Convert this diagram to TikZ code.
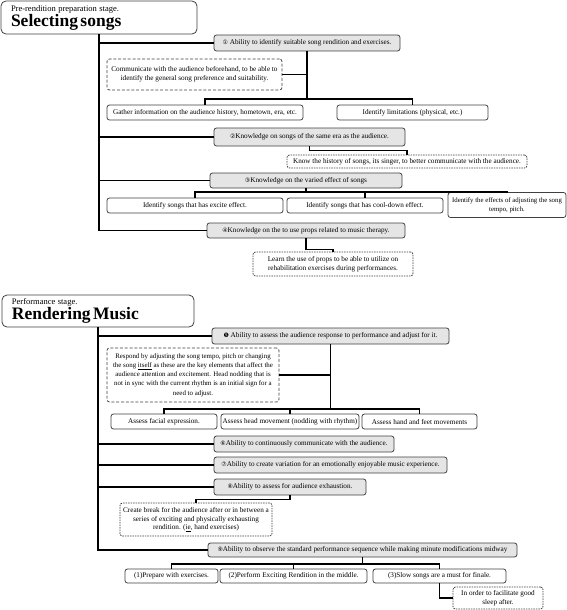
\documentclass[tikz,border=0pt]{standalone}
\usepackage{fontspec}
\setmainfont{Liberation Serif}
\newfontfamily\circfont{DejaVu Sans}
\newcommand\cnum[1]{{\circfont\fontsize{6}{6}\selectfont #1}}

\begin{document}
\begin{tikzpicture}[x=1pt, y=-1pt,
  every node/.style={font=\fontsize{7.2}{8.8}\selectfont, align=center, inner sep=1pt},
  box/.style={draw=black!75, line width=0.8pt, rounded corners=2.5pt, fill=white},
  mainbox/.style={box, fill=black!10, minimum height=15pt},
  subbox/.style={box, minimum height=15pt},
  titlebox/.style={box, rounded corners=5pt, align=left, inner xsep=10pt},
  notebox/.style={box, dash pattern=on 3pt off 1.8pt},
  dotbox/.style={box, dash pattern=on 1.5pt off 1pt},
  link/.style={line width=1.1pt}]
\useasboundingbox (0,0) rectangle (567,610);
\node[titlebox, text width=176pt, minimum height=33pt] (stage1) at (99,17.5) {{\fontsize{8.5}{9}\selectfont Pre-rendition preparation stage.}\\{\fontsize{17.5}{18}\selectfont\bfseries Selecting songs}};
\node[mainbox, minimum width=186pt, minimum height=16pt] (a1) at (307,43) {\cnum{①} Ability to identify suitable song rendition and exercises.};
\node[notebox, minimum width=175pt, minimum height=31pt] (a1c) at (194.5,74.5) {Communicate with the audience beforehand, to be able to\\identify the general song preference and suitability.};
\node[subbox, minimum width=196pt] (a1g) at (205,112.5) {Gather information on the audience history, hometown, era, etc.};
\node[subbox, minimum width=151pt] (a1l) at (412.5,112.5) {Identify limitations (physical, etc.)};
\node[mainbox, minimum width=191pt, minimum height=18pt] (a2) at (309.5,137) {\cnum{②}Knowledge on songs of the same era as the audience.};
\node[dotbox, minimum width=240pt, minimum height=13pt] (a2k) at (407,161.5) {Know the history of songs, its singer, to better communicate with the audience.};
\node[mainbox, minimum width=192pt] (a3) at (306,180.5) {\cnum{③}Knowledge on the varied effect of songs};
\node[subbox, minimum width=176pt] (a3e) at (195,205.5) {Identify songs that has excite effect.};
\node[subbox, minimum width=156pt] (a3c) at (365,205.5) {Identify songs that has cool-down effect.};
\node[subbox, minimum width=118pt, minimum height=25pt, font=\fontsize{6.8}{8.8}\selectfont] (a3t) at (507,205) {Identify the effects of adjusting the song\\tempo, pitch.};
\node[mainbox, minimum width=198pt] (a4) at (306,230.5) {\cnum{④}Knowledge on the to use props related to music therapy.};
\node[dotbox, minimum width=160pt, minimum height=24pt] (a4p) at (333,264) {Learn the use of props to be able to utilize on\\rehabilitation exercises during performances.};
\node[titlebox, text width=172pt, minimum height=32pt] (stage2) at (98,311) {{\fontsize{8.5}{9}\selectfont Performance stage.}\\{\fontsize{17.5}{18}\selectfont\bfseries Rendering Music}};
\node[mainbox, minimum width=237pt, minimum height=16pt] (b5) at (330.5,336) {\cnum{❺} Ability to assess the audience response to performance and adjust for it.};
\node[notebox, minimum width=172pt, minimum height=54pt, font=\fontsize{6.9}{9.2}\selectfont] (b5r) at (193,375) {Respond by adjusting the song tempo, pitch or changing\\the song \underline{itself} as these are the key elements that affect the\\audience attention and excitement. Head nodding that is\\not in sync with the current rhythm is an initial sign for a\\need to adjust.};
\node[subbox, minimum width=106pt] (b5f) at (164,421.5) {Assess facial expression.};
\node[subbox, minimum width=138pt] (b5h) at (290,421.5) {Assess head movement (nodding with rhythm)};
\node[subbox, minimum width=115pt] (b5m) at (419.5,421.5) {Assess hand and feet movements};
\node[mainbox, minimum width=180pt, minimum height=16pt] (b6) at (304,444) {\cnum{⑥}Ability to continuously communicate with the audience.};
\node[mainbox, minimum width=233pt, minimum height=16pt] (b7) at (330.5,465) {\cnum{⑦}Ability to create variation for an emotionally enjoyable music experience.};
\node[mainbox, minimum width=152pt, minimum height=16pt] (b8) at (290,487) {\cnum{⑧}Ability to assess for audience exhaustion.};
\node[dotbox, minimum width=152pt, minimum height=33pt] (b8b) at (196,519.5) {Create break for the audience after or in between a\\series of exciting and physically exhausting\\rendition. (\underline{ie}, hand exercises)};
\node[mainbox, minimum width=309pt, minimum height=14pt] (b9) at (362.5,550) {\cnum{⑨}Ability to observe the standard performance sequence while making minute modifications midway};
\node[subbox, minimum width=93pt, minimum height=14pt] (b9a) at (171.5,576) {(1)Prepare with exercises.};
\node[subbox, minimum width=147pt, minimum height=14pt] (b9b) at (293.5,576) {(2)Perform Exciting Rendition in the middle.};
\node[subbox, minimum width=133pt, minimum height=14pt] (b9c) at (439.5,576) {(3)Slow songs are a must for finale.};
\node[dotbox, minimum width=90pt, minimum height=22pt] (b9s) at (498,598) {In order to facilitate good\\sleep after.};
\foreach \n in {a1,a2,a3,a4}
  \draw[link] (stage1.south) |- (\n.west);
\coordinate (j1) at (307,99);
\draw[link] (a1.south) -- (j1);
\draw[link] (a1c.east) -- (a1c.east -| a1.south);
\draw[link] (a1g.north) |- (j1) -| (a1l.north);
\draw[link] (a2.south) -- ++(0,4) -| (a2k.north);
\coordinate (j3) at (306,192);
\draw[link] (a3.south) -- (j3);
\draw[link] (a3e.north) |- (j3) -| (a3t.north);
\draw[link] (a3c.north) -- (a3c.north |- j3);
\draw[link] (a4.south) -- ++(0,11) -| (a4p.north);
\foreach \n in {b5,b6,b7,b8,b9}
  \draw[link] (stage2.south) |- (\n.west);
\coordinate (j5) at (330.5,409);
\draw[link] (b5.south) -- (j5);
\draw[link] (b5r.east) -- (b5r.east -| b5.south);
\draw[link] (b5f.north) |- (j5) -| (b5m.north);
\draw[link] (b5h.north) -- (b5h.north |- j5);
\draw[link] (b8.south) -- ++(0,4) -| (b8b.north);
\coordinate (j9) at (362.5,564);
\draw[link] (b9.south) -- (j9);
\draw[link] (b9a.north) |- (j9) -| (b9c.north);
\draw[link] (b9b.north) -- (b9b.north |- j9);
\draw[link] (b9c.south) |- (b9s.west);
\end{tikzpicture}
\end{document}
